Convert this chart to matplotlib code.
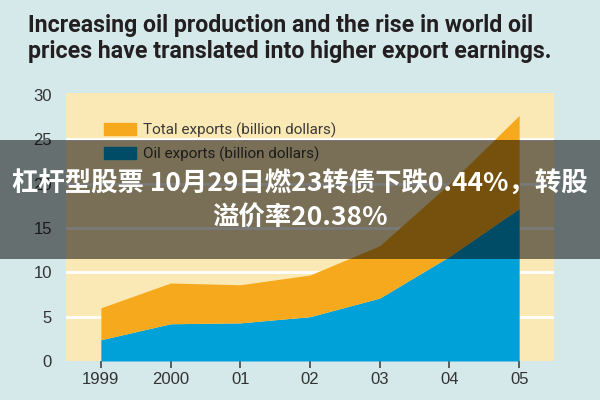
#!/usr/bin/env python3
"""Oil exports vs total exports, stacked area, with news banner overlay."""
import matplotlib
matplotlib.use("Agg")
import matplotlib.pyplot as plt
from matplotlib.patches import Patch, Rectangle

YEARS = [1999, 2000, 2001, 2002, 2003, 2004, 2005]
YEAR_LABELS = ["1999", "2000", "01", "02", "03", "04", "05"]
TOTAL = [6.0, 8.8, 8.6, 9.7, 13.0, 20.0, 27.7]
OIL = [2.4, 4.2, 4.3, 5.0, 7.1, 11.8, 17.2]
Y_TICKS = [0, 5, 10, 15, 20, 25, 30]

TITLE = ("Increasing oil production and the rise in world oil\n"
         "prices have translated into higher export earnings.")
BANNER = "杠杆型股票 10月29日燃23转债下跌0.44%，转股\n溢价率20.38%"

BG = "#d5e8ea"
PLOT_BG = "#fbe9b5"
ORANGE = "#f6a91d"
BLUE = "#00a0d8"
DARK = "#333333"

fig = plt.figure(figsize=(6, 4), dpi=100, facecolor=BG)
ax = fig.add_axes([66 / 600, 1 - 361 / 400, 488 / 600, 268 / 400])
ax.set_facecolor(PLOT_BG)

for y in Y_TICKS[1:-1]:
    ax.axhline(y, color="white", linewidth=2, zorder=1)

ax.fill_between(YEARS, 0, OIL, color=BLUE, linewidth=0, zorder=2)
ax.fill_between(YEARS, OIL, TOTAL, color=ORANGE, linewidth=0, zorder=2)

ax.set_xlim(1998.5, 2005.5)
ax.set_ylim(0, 30.23)
ax.set_xticks(YEARS)
ax.set_xticklabels(YEAR_LABELS)
ax.set_yticks(Y_TICKS)
for s in ax.spines.values():
    s.set_visible(False)
ax.tick_params(axis="x", length=5, width=1.2, color="#444444", pad=3,
               labelsize=12, labelcolor=DARK)
ax.tick_params(axis="y", length=0, pad=10, labelsize=12, labelcolor=DARK)
for lab in ax.get_xticklabels() + ax.get_yticklabels():
    lab.set_family("Liberation Sans")

handles = [Patch(color=ORANGE, label="Total exports (billion dollars)"),
           Patch(color=BLUE, label="Oil exports (billion dollars)")]
leg = ax.legend(handles=handles, loc="upper left",
                bbox_to_anchor=(30 / 488, 1 - 22 / 268), frameon=False,
                borderpad=0, handlelength=2.1, handleheight=0.8,
                handletextpad=0.45, labelspacing=0.55,
                prop={"family": "Roboto", "size": 11})
for t in leg.get_texts():
    t.set_color("#3a3a3a")

fig.text(28 / 600, 1 - 14 / 400, TITLE, ha="left", va="top",
         family="Roboto", weight="bold", fontsize=16.7,
         color="#231f20", linespacing=1.18)

# semi-transparent news banner across the middle
fig.add_artist(Rectangle((0, 1 - 259 / 400), 1, 119 / 400,
                         transform=fig.transFigure, facecolor="black",
                         alpha=0.52, edgecolor="none", zorder=10))
fig.text(0.5, 1 - 201 / 400, BANNER, ha="center", va="center",
         family=["Noto Sans CJK SC", "DejaVu Sans"], weight="bold",
         fontsize=19, color="white", linespacing=1.35, zorder=11)

fig.savefig("out.png", dpi=100, facecolor=BG)
